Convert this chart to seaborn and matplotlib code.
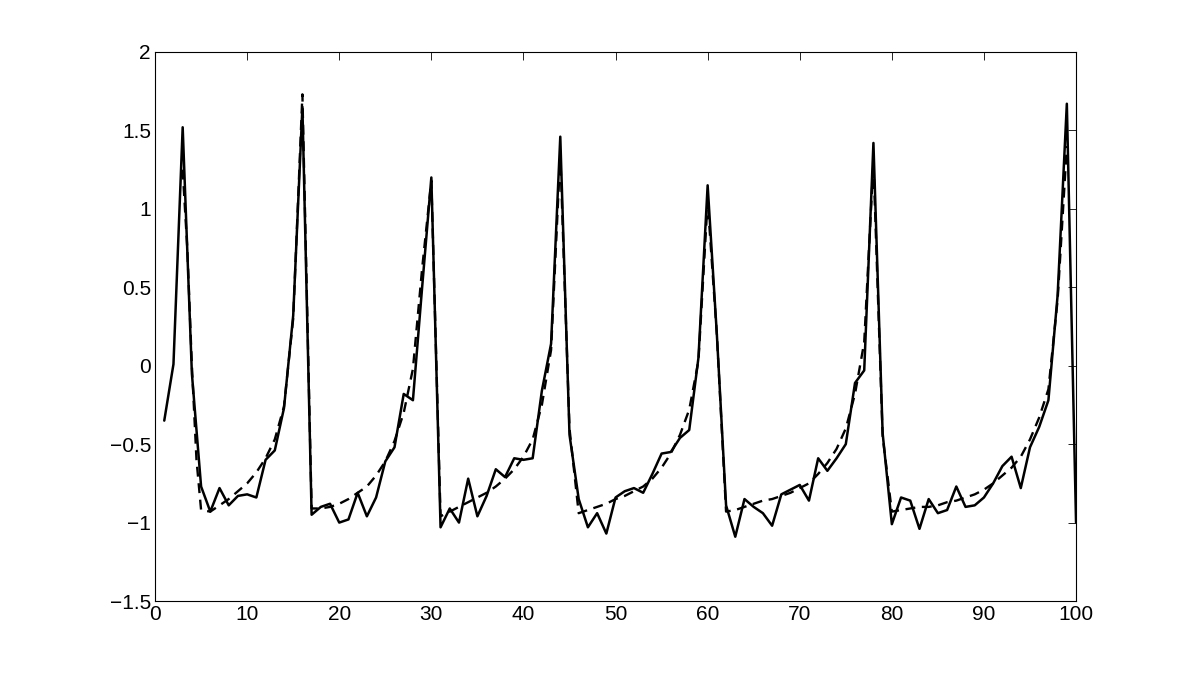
import numpy as np
import pandas as pd
import matplotlib
matplotlib.use("Agg")
import matplotlib.pyplot as plt
import seaborn as sns

# solid line: observed series at t = 1..100
t_obs = list(range(1, 101))
y_obs = [-0.35, 0.01, 1.52, -0.05, -0.77, -0.93, -0.78, -0.89, -0.83, -0.82,
         -0.84, -0.60, -0.54, -0.27, 0.32, 1.65, -0.95, -0.90, -0.88, -1.00,
         -0.98, -0.81, -0.96, -0.84, -0.61, -0.52, -0.18, -0.22, 0.50, 1.20,
         -1.03, -0.91, -1.00, -0.72, -0.96, -0.83, -0.66, -0.71, -0.59, -0.60,
         -0.59, -0.16, 0.14, 1.46, -0.44, -0.85, -1.03, -0.94, -1.07, -0.84,
         -0.80, -0.78, -0.81, -0.69, -0.56, -0.55, -0.46, -0.41, 0.05, 1.15,
         0.20, -0.89, -1.09, -0.85, -0.90, -0.94, -1.02, -0.82, -0.79, -0.76,
         -0.86, -0.59, -0.67, -0.59, -0.50, -0.11, -0.03, 1.42, -0.43, -1.01,
         -0.84, -0.86, -1.04, -0.85, -0.94, -0.92, -0.77, -0.90, -0.89, -0.84,
         -0.75, -0.64, -0.58, -0.78, -0.52, -0.39, -0.22, 0.45, 1.67, -1.00]

# dashed line: fitted curve
t_fit = [3, 3.5, 4, 4.5, 5] + list(range(6, 100))
y_fit = [1.25, 0.75, 0.00, -0.60, -0.92,
         -0.93, -0.89, -0.85, -0.80, -0.75, -0.68, -0.59, -0.47, -0.26, 0.30,
         1.73, -0.91, -0.91, -0.90, -0.88, -0.85, -0.81, -0.77, -0.70, -0.61,
         -0.48, -0.30, -0.02, 0.62, 1.18, -0.96, -0.93, -0.90, -0.87, -0.84,
         -0.81, -0.77, -0.72, -0.66, -0.58, -0.47, -0.25, 0.10, 1.35, -0.40,
         -0.94, -0.92, -0.90, -0.88, -0.85, -0.83, -0.80, -0.77, -0.72, -0.65,
         -0.56, -0.44, -0.28, 0.03, 1.05, 0.20, -0.93, -0.92, -0.90, -0.88,
         -0.86, -0.85, -0.83, -0.81, -0.78, -0.75, -0.69, -0.62, -0.53, -0.40,
         -0.18, 0.15, 1.30, -0.45, -0.93, -0.92, -0.91, -0.90, -0.90, -0.89,
         -0.87, -0.86, -0.84, -0.82, -0.79, -0.75, -0.70, -0.65, -0.58, -0.47,
         -0.33, -0.15, 0.42, 1.40]

xticks = list(range(0, 101, 10))
yticks = [-1.5, -1, -0.5, 0, 0.5, 1, 1.5, 2]
ytick_labels = ["\u22121.5", "\u22121", "\u22120.5", "0", "0.5", "1", "1.5", "2"]

sns.set_style("white")
plt.rcParams["font.family"] = ["Liberation Sans", "DejaVu Sans"]

obs = pd.DataFrame({"t": t_obs, "y": y_obs})
fit = pd.DataFrame({"t": t_fit, "y": y_fit})

fig = plt.figure(figsize=(11.89, 6.75), dpi=100)
ax = fig.add_axes([0.1304, 0.1096, 0.7746, 0.8134])

sns.lineplot(data=fit, x="t", y="y", ax=ax, color="black", linewidth=1.7,
             linestyle=(0, (4.2, 2.8)))
sns.lineplot(data=obs, x="t", y="y", ax=ax, color="black", linewidth=1.8)

ax.set_xlim(0, 100)
ax.set_ylim(-1.5, 2)
ax.set_xticks(xticks)
ax.set_xticklabels([str(v) for v in xticks])
ax.set_yticks(yticks)
ax.set_yticklabels(ytick_labels)
ax.set_xlabel("")
ax.set_ylabel("")
ax.tick_params(direction="in", length=6, width=0.6, top=True, right=True,
               labelsize=15, colors="black", pad=3)
for s in ax.spines.values():
    s.set_color("black")
    s.set_linewidth(0.8)

fig.savefig("out.png", dpi=100)
